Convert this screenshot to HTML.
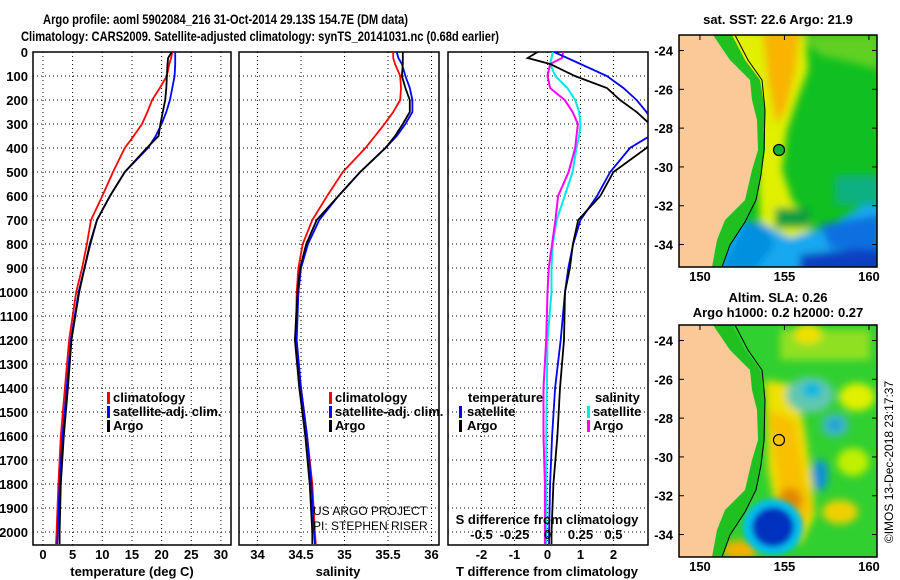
<!DOCTYPE html>
<html><head><meta charset="utf-8">
<style>
html,body{margin:0;padding:0;background:#fff;}
svg{display:block;font-family:"Liberation Sans",sans-serif;}
.t{font-weight:bold;font-size:13px;fill:#000;}
</style></head>
<body>
<svg id="chart" width="900" height="580" viewBox="0 0 900 580">
<defs>
<clipPath id="c1"><rect x="33" y="52" width="198" height="493"/></clipPath>
<clipPath id="c2"><rect x="239" y="52" width="200" height="493"/></clipPath>
<clipPath id="c3"><rect x="448" y="52" width="200" height="493"/></clipPath>
<clipPath id="m1"><rect x="679" y="35" width="198" height="232"/></clipPath>
<clipPath id="m2"><rect x="679" y="325" width="198" height="232"/></clipPath>
<filter id="bl" x="-20%" y="-20%" width="140%" height="140%"><feGaussianBlur stdDeviation="4"/></filter>
<filter id="bl2" x="-20%" y="-20%" width="140%" height="140%"><feGaussianBlur stdDeviation="3"/></filter>
</defs>
<text class="t" x="43" y="24" textLength="365" lengthAdjust="spacingAndGlyphs" style="font-size:14px">Argo profile: aoml 5902084_216 31-Oct-2014 29.13S 154.7E (DM data)</text>
<text class="t" x="21" y="41" textLength="478" lengthAdjust="spacingAndGlyphs" style="font-size:14px">Climatology: CARS2009. Satellite-adjusted climatology: synTS_20141031.nc (0.68d earlier)</text>

<!-- top map -->
<g clip-path="url(#m1)">
<rect x="679" y="35" width="198" height="232" fill="#10c020"/>
<g filter="url(#bl)">
<polygon points="713,30 805,30 808,70 797,100 787,130 782,170 792,200 812,225 805,242 775,242 760,220 757,150 750,80" fill="#e0f000"/>
<polygon points="762,30 800,30 796,70 786,110 776,125 768,80" fill="#f8b400"/>
<polygon points="800,35 880,35 880,70 850,62 820,55" fill="#60d020"/>
<polygon points="679,218 760,222 790,238 830,225 880,195 880,275 679,275" fill="#18a8f0"/>
<polygon points="800,255 885,245 885,275 800,275" fill="#0840c0"/>
<polygon points="820,225 880,215 880,250 830,248" fill="#1070e0"/>
<polygon points="745,222 765,225 775,245 755,270 720,270" fill="#0090e0"/>
<rect x="775" y="208" width="35" height="20" fill="#10a040"/>
<rect x="835" y="175" width="45" height="30" fill="#10b080"/>
</g>
</g>
<g clip-path="url(#m1)">
<polygon points="713,35 732,35 745,60 760,80 765,110 765,150 761,175 756,200 745,222 730,245 722,267 712,267" fill="#20c020"/>
<polygon points="670,35 713,35 730,60 750,80 752,100 757,120 758,150 752,170 745,200 725,220 717,240 712,267 670,267" fill="#fbc998"/>
<polyline points="735,35 748,60 762,80 765,110 764,150 761,175 756,200 745,222 730,245 722,267" fill="none" stroke="#000" stroke-width="1"/>
<circle cx="779" cy="150" r="5.5" fill="#10b030" stroke="#000" stroke-width="1.2"/>
</g>
<rect x="679" y="35" width="198" height="232" fill="none" stroke="#000" stroke-width="1.5"/>

<!-- bottom map -->
<g clip-path="url(#m2)">
<rect x="679" y="325" width="198" height="232" fill="#30d030"/>
<g filter="url(#bl)">
<rect x="780" y="330" width="90" height="30" fill="#90e020"/>
<ellipse cx="808" cy="334" rx="14" ry="10" fill="#f0e000"/>
<polygon points="765,380 795,385 805,430 812,480 815,515 800,545 778,520 768,470" fill="#f0e000"/>
<polygon points="768,410 795,420 805,480 812,510 798,530 780,500" fill="#f8c000"/>
<ellipse cx="790" cy="500" rx="12" ry="12" fill="#e08800"/>
<ellipse cx="810" cy="395" rx="24" ry="18" fill="#60c8b0"/>
<ellipse cx="812" cy="390" rx="10" ry="8" fill="#00b8e0"/>
<ellipse cx="835" cy="425" rx="14" ry="12" fill="#40b8c0"/>
<ellipse cx="835" cy="425" rx="6" ry="5" fill="#0098e0"/>
<ellipse cx="820" cy="475" rx="8" ry="16" fill="#1090d8"/>
<ellipse cx="857" cy="397" rx="18" ry="14" fill="#e0f000"/>
<ellipse cx="853" cy="462" rx="16" ry="14" fill="#c0f000"/>
<ellipse cx="840" cy="512" rx="18" ry="12" fill="#f0d000"/>
<ellipse cx="740" cy="550" rx="18" ry="10" fill="#f0b000"/>
</g>
<g filter="url(#bl2)">
<ellipse cx="773" cy="527" rx="30" ry="28" fill="#00c0f0"/>
<ellipse cx="773" cy="527" rx="21" ry="20" fill="#0030c0"/>
</g>
</g>
<g clip-path="url(#m2)">
<polygon points="713,325 732,325 745,350 760,370 765,400 765,440 761,465 756,490 745,512 730,535 722,557 712,557" fill="#20c020"/>
<polygon points="670,325 713,325 730,350 750,370 752,390 757,410 758,440 752,460 745,490 725,510 717,530 712,557 670,557" fill="#fbc998"/>
<polyline points="735,325 748,350 762,370 765,400 764,440 761,465 756,490 745,512 730,535 722,557" fill="none" stroke="#000" stroke-width="1"/>
<circle cx="779" cy="440" r="5.5" fill="none" stroke="#000" stroke-width="1.2"/>
</g>
<rect x="679" y="325" width="198" height="232" fill="none" stroke="#000" stroke-width="1.5"/>

<text class="t" x="778" y="24" text-anchor="middle">sat. SST: 22.6 Argo: 21.9</text>
<text class="t" x="778" y="302" text-anchor="middle">Altim. SLA: 0.26</text>
<text class="t" x="778" y="317" text-anchor="middle">Argo h1000: 0.2 h2000: 0.27</text>
<text x="893" y="462" font-size="12" text-anchor="middle" transform="rotate(-90 893 462)">©IMOS 13-Dec-2018 23:17:37</text>
<g id="axes"></g>
</svg>
<script>
const depths=[0,25,50,100,150,200,250,300,350,400,500,600,700,800,900,1000,1200,1400,1600,1800,2000,2050];
const tClim=[21.8,21.6,21.3,20.9,19.7,18.4,17.6,16.7,15.3,13.8,11.8,10.0,8.1,7.4,6.6,5.6,4.4,3.7,3.0,2.6,2.3,2.2];
const tSat=[22.3,22.3,22.3,22.2,21.8,21.4,20.8,20.0,19.0,17.7,13.8,11.3,9.1,8.0,7.0,6.0,4.7,4.0,3.3,2.8,2.5,2.4];
const tArgo=[21.7,21.1,21.0,20.9,20.8,20.6,20.2,19.8,19.5,17.5,13.8,11.3,9.1,7.9,7.0,6.1,4.8,4.2,3.5,3.0,2.8,2.8];
const sClim=[35.56,35.56,35.58,35.64,35.65,35.64,35.56,35.46,35.35,35.24,34.98,34.80,34.63,34.52,34.47,34.45,34.44,34.50,34.57,34.63,34.66,34.67];
const sSat=[35.60,35.62,35.66,35.70,35.75,35.78,35.78,35.70,35.60,35.47,35.18,34.93,34.71,34.58,34.50,34.47,34.45,34.50,34.57,34.62,34.65,34.66];
const sArgo=[35.67,35.67,35.67,35.66,35.70,35.75,35.75,35.67,35.58,35.47,35.18,34.93,34.68,34.56,34.49,34.46,34.43,34.48,34.55,34.60,34.63,34.63];
const dTSat=[0.2,0.6,1.0,1.8,2.3,2.7,3.0,3.2,3.1,2.5,1.9,1.5,1.0,0.78,0.63,0.53,0.4,0.23,0.14,0.08,0.05,0.05];
const dTArgo=[-0.3,-0.6,0.08,0.83,1.8,2.2,2.7,3.1,3.3,3.0,2.0,1.6,0.93,0.77,0.68,0.53,0.5,0.38,0.30,0.18,0.12,0.12];
const dSSat=[0.04,0.03,0.02,0.06,0.15,0.21,0.24,0.25,0.24,0.22,0.19,0.13,0.07,0.04,0.03,0.03,0.0,-0.005,-0.01,-0.01,-0.01,-0.01];
const dSArgo=[0.12,0.11,0.02,0.0,0.02,0.13,0.19,0.23,0.22,0.21,0.16,0.08,0.06,0.035,0.01,0.0,-0.01,-0.03,-0.03,-0.02,-0.02,-0.02];
const depthTicks=[0,100,200,300,400,500,600,700,800,900,1000,1100,1200,1300,1400,1500,1600,1700,1800,1900,2000];
const tTicks=[0,5,10,15,20,25,30];
const sTicks=[34,34.5,35,35.5,36];
const sTickLabels=["34","34.5","35","35.5","36"];
const dTTicks=[-2,-1,0,1,2];
const dSTicks=[-0.5,-0.25,0,0.25,0.5];
const dSTickLabels=["-0.5","-0.25","0","0.25","0.5"];
const latTicks=[-24,-26,-28,-30,-32,-34];
const lonTicks=[150,155,160];

const NS='http://www.w3.org/2000/svg';
const root=document.getElementById('axes');
function mk(tag,at,parent){const e=document.createElementNS(NS,tag);for(const k in at)e.setAttribute(k,at[k]);(parent||root).appendChild(e);return e;}
const yD=d=>52+d*0.24;
const P1={x0:33,x1:231,fx:v=>43+5.93*v};
const P2={x0:239,x1:439,fx:v=>257.5+87*(v-34)};
const P3={x0:448,x1:648,fx:v=>547.5+33*v};
const fS3=v=>547.5+132*v;
const latY=(lat,top)=>top+(-23.2-lat)*19.4;
const lonX=lon=>679+(lon-148.76)*16.9;

function panel(P,ticks,labels,name){
  const g=mk('g',{});
  
  
  depthTicks.forEach(d=>{
    const l=mk('line',{x1:P.x0,x2:P.x1,y1:yD(d),y2:yD(d),stroke:'#000','stroke-dasharray':'1,3','stroke-width':1},g);
    
    
  });
  ticks.forEach((v,i)=>{
    const x=P.fx(v);
    const l=mk('line',{x1:x,x2:x,y1:52,y2:545,stroke:'#000','stroke-dasharray':'1,3','stroke-width':1},g);
    
    
    const t=mk('text',{x:x,y:559,'text-anchor':'middle',class:'t'},g);
    t.textContent=labels[i];
    
    
  });
  const f=mk('rect',{x:P.x0,y:52,width:P.x1-P.x0,height:493,fill:'none',stroke:'#000','stroke-width':1.5},g);
  
  
  return g;
}
function line(vals,fx,color,clip,name,w){
  const pts=vals.map((v,i)=>fx(v).toFixed(1)+','+yD(depths[i]).toFixed(1)).join(' ');
  const p=mk('polyline',{points:pts,fill:'none',stroke:color,'stroke-width':w||1.8,'clip-path':'url(#'+clip+')'});
  
  
}
function txt(x,y,s,name,anchor,extra){
  const t=mk('text',Object.assign({x:x,y:y,class:'t','text-anchor':anchor||'start'},extra||{}));
  t.textContent=s;
  
  
  return t;
}
function legBar(x,y,color){
  const r=mk('rect',{x:x,y:y-10,width:3,height:12,fill:color});
  
  
}

panel(P1,tTicks,tTicks.map(String),'temperature');
panel(P2,sTicks,sTickLabels,'salinity');
panel(P3,dTTicks,dTTicks.map(String),'difference');

depthTicks.forEach(d=>{txt(28,yD(d)+5,String(d),'depth-tick-label','end');});

line(tClim,P1.fx,'#ff0000','c1','temp-climatology-line');
line(tSat,P1.fx,'#0000ff','c1','temp-satellite-line');
line(tArgo,P1.fx,'#000000','c1','temp-argo-line');
line(sClim,P2.fx,'#ff0000','c2','sal-climatology-line');
line(sSat,P2.fx,'#0000ff','c2','sal-satellite-line');
line(sArgo,P2.fx,'#000000','c2','sal-argo-line');
line(dSSat,fS3,'#00e8e8','c3','sdiff-satellite-line',2);
line(dSArgo,fS3,'#ff00ff','c3','sdiff-argo-line',2);
line(dTSat,P3.fx,'#0000ff','c3','tdiff-satellite-line');
line(dTArgo,P3.fx,'#000000','c3','tdiff-argo-line');

txt(132,576,'temperature (deg C)','x-axis-title-temperature','middle');
txt(338,576,'salinity','x-axis-title-salinity','middle');
txt(547,576,'T difference from climatology','x-axis-title-tdiff','middle');
txt(547,524,'S difference from climatology','sdiff-axis-title','middle');
dSTicks.forEach((v,i)=>{txt(fS3(v),539,dSTickLabels[i],'sdiff-tick-label','middle');});

[['climatology','#ff0000'],['satellite-adj. clim.','#0000ff'],['Argo','#000000']].forEach((e,i)=>{
  legBar(107,402+i*14,e[1]);txt(113,402+i*14,e[0],'legend-entry');
  legBar(329,402+i*14,e[1]);txt(335,402+i*14,e[0],'legend-entry');
});
txt(468,402,'temperature','legend-title-temperature');
legBar(459,416,'#0000ff');txt(467,416,'satellite','legend-entry');
legBar(459,430,'#000000');txt(467,430,'Argo','legend-entry');
txt(595,402,'salinity','legend-title-salinity');
legBar(587,416,'#00e8e8');txt(593,416,'satellite','legend-entry');
legBar(587,430,'#ff00ff');txt(593,430,'Argo','legend-entry');
txt(313,515,'US ARGO PROJECT','credit-project','start',{style:'font-weight:normal;font-size:12px'});
txt(313,530,'PI: STEPHEN RISER','credit-pi','start',{style:'font-weight:normal;font-size:12px'});

[35,325].forEach(top=>{
  latTicks.forEach(lat=>{
    const y=latY(lat,top);
    txt(673,y+5,String(lat),'lat-tick-label','end');
    mk('line',{x1:679,x2:684,y1:y,y2:y,stroke:'#000'});
    mk('line',{x1:872,x2:877,y1:y,y2:y,stroke:'#000'});
  });
  lonTicks.forEach(lon=>{
    const x=lonX(lon);
    txt(x,top+232+14,String(lon),'lon-tick-label','middle');
    mk('line',{x1:x,x2:x,y1:top,y2:top+5,stroke:'#000'});
  });
});
</script>
</body></html>
